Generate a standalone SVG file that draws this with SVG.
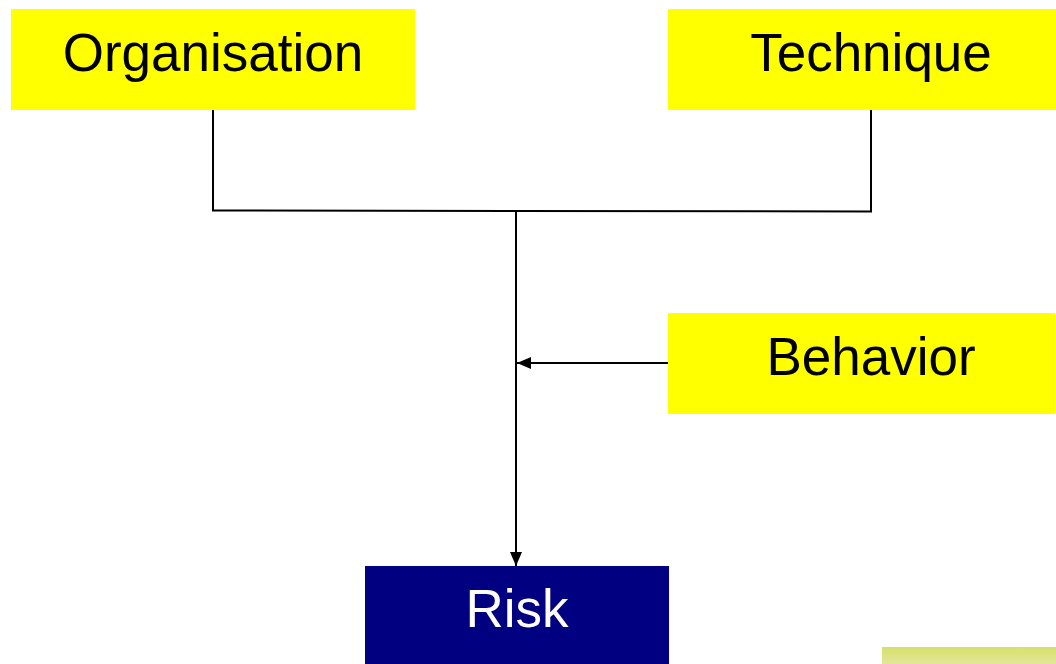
<svg xmlns="http://www.w3.org/2000/svg" width="1056" height="664" viewBox="0 0 1056 664">
<style>
.y{fill:#ffff00}
.t{font-family:"Liberation Sans",Arial,sans-serif;font-size:53px;text-anchor:middle;fill:#000}
.c{stroke:#000;stroke-width:2;fill:none}
</style>
<defs>
<marker id="ah" markerWidth="14" markerHeight="12" refX="14" refY="6" orient="auto" markerUnits="userSpaceOnUse" viewBox="0 0 14 12"><path d="M0,0 L14,6 L0,12 z" fill="#000"/></marker>
<linearGradient id="g" x1="0" y1="0" x2="0" y2="1"><stop offset="0" stop-color="#d6e06a"/><stop offset="1" stop-color="#e4e69a"/></linearGradient>
</defs>
<rect x="0" y="0" width="1056" height="664" fill="#fff"/>
<g id="connectors">
<polyline class="c" points="213,110 213,210.5 871,211.5 871,110"/>
<line class="c" x1="516" y1="211" x2="516" y2="566" marker-end="url(#ah)"/>
<line class="c" x1="668" y1="363" x2="517" y2="363" marker-end="url(#ah)"/>
</g>
<g id="organisation"><rect class="y" x="11" y="9" width="404" height="101"/><text class="t" x="213" y="71">Organisation</text></g>
<g id="technique"><rect class="y" x="668" y="9" width="388" height="101"/><text class="t" x="871" y="71">Technique</text></g>
<g id="behavior"><rect class="y" x="668" y="313" width="387" height="101"/><text class="t" x="871" y="375">Behavior</text></g>
<g id="risk"><rect x="365" y="566" width="304" height="98" fill="#000080"/><text class="t" x="517" y="627" style="fill:#fff">Risk</text></g>
<rect x="882" y="647" width="174" height="17" fill="url(#g)"/>
</svg>
